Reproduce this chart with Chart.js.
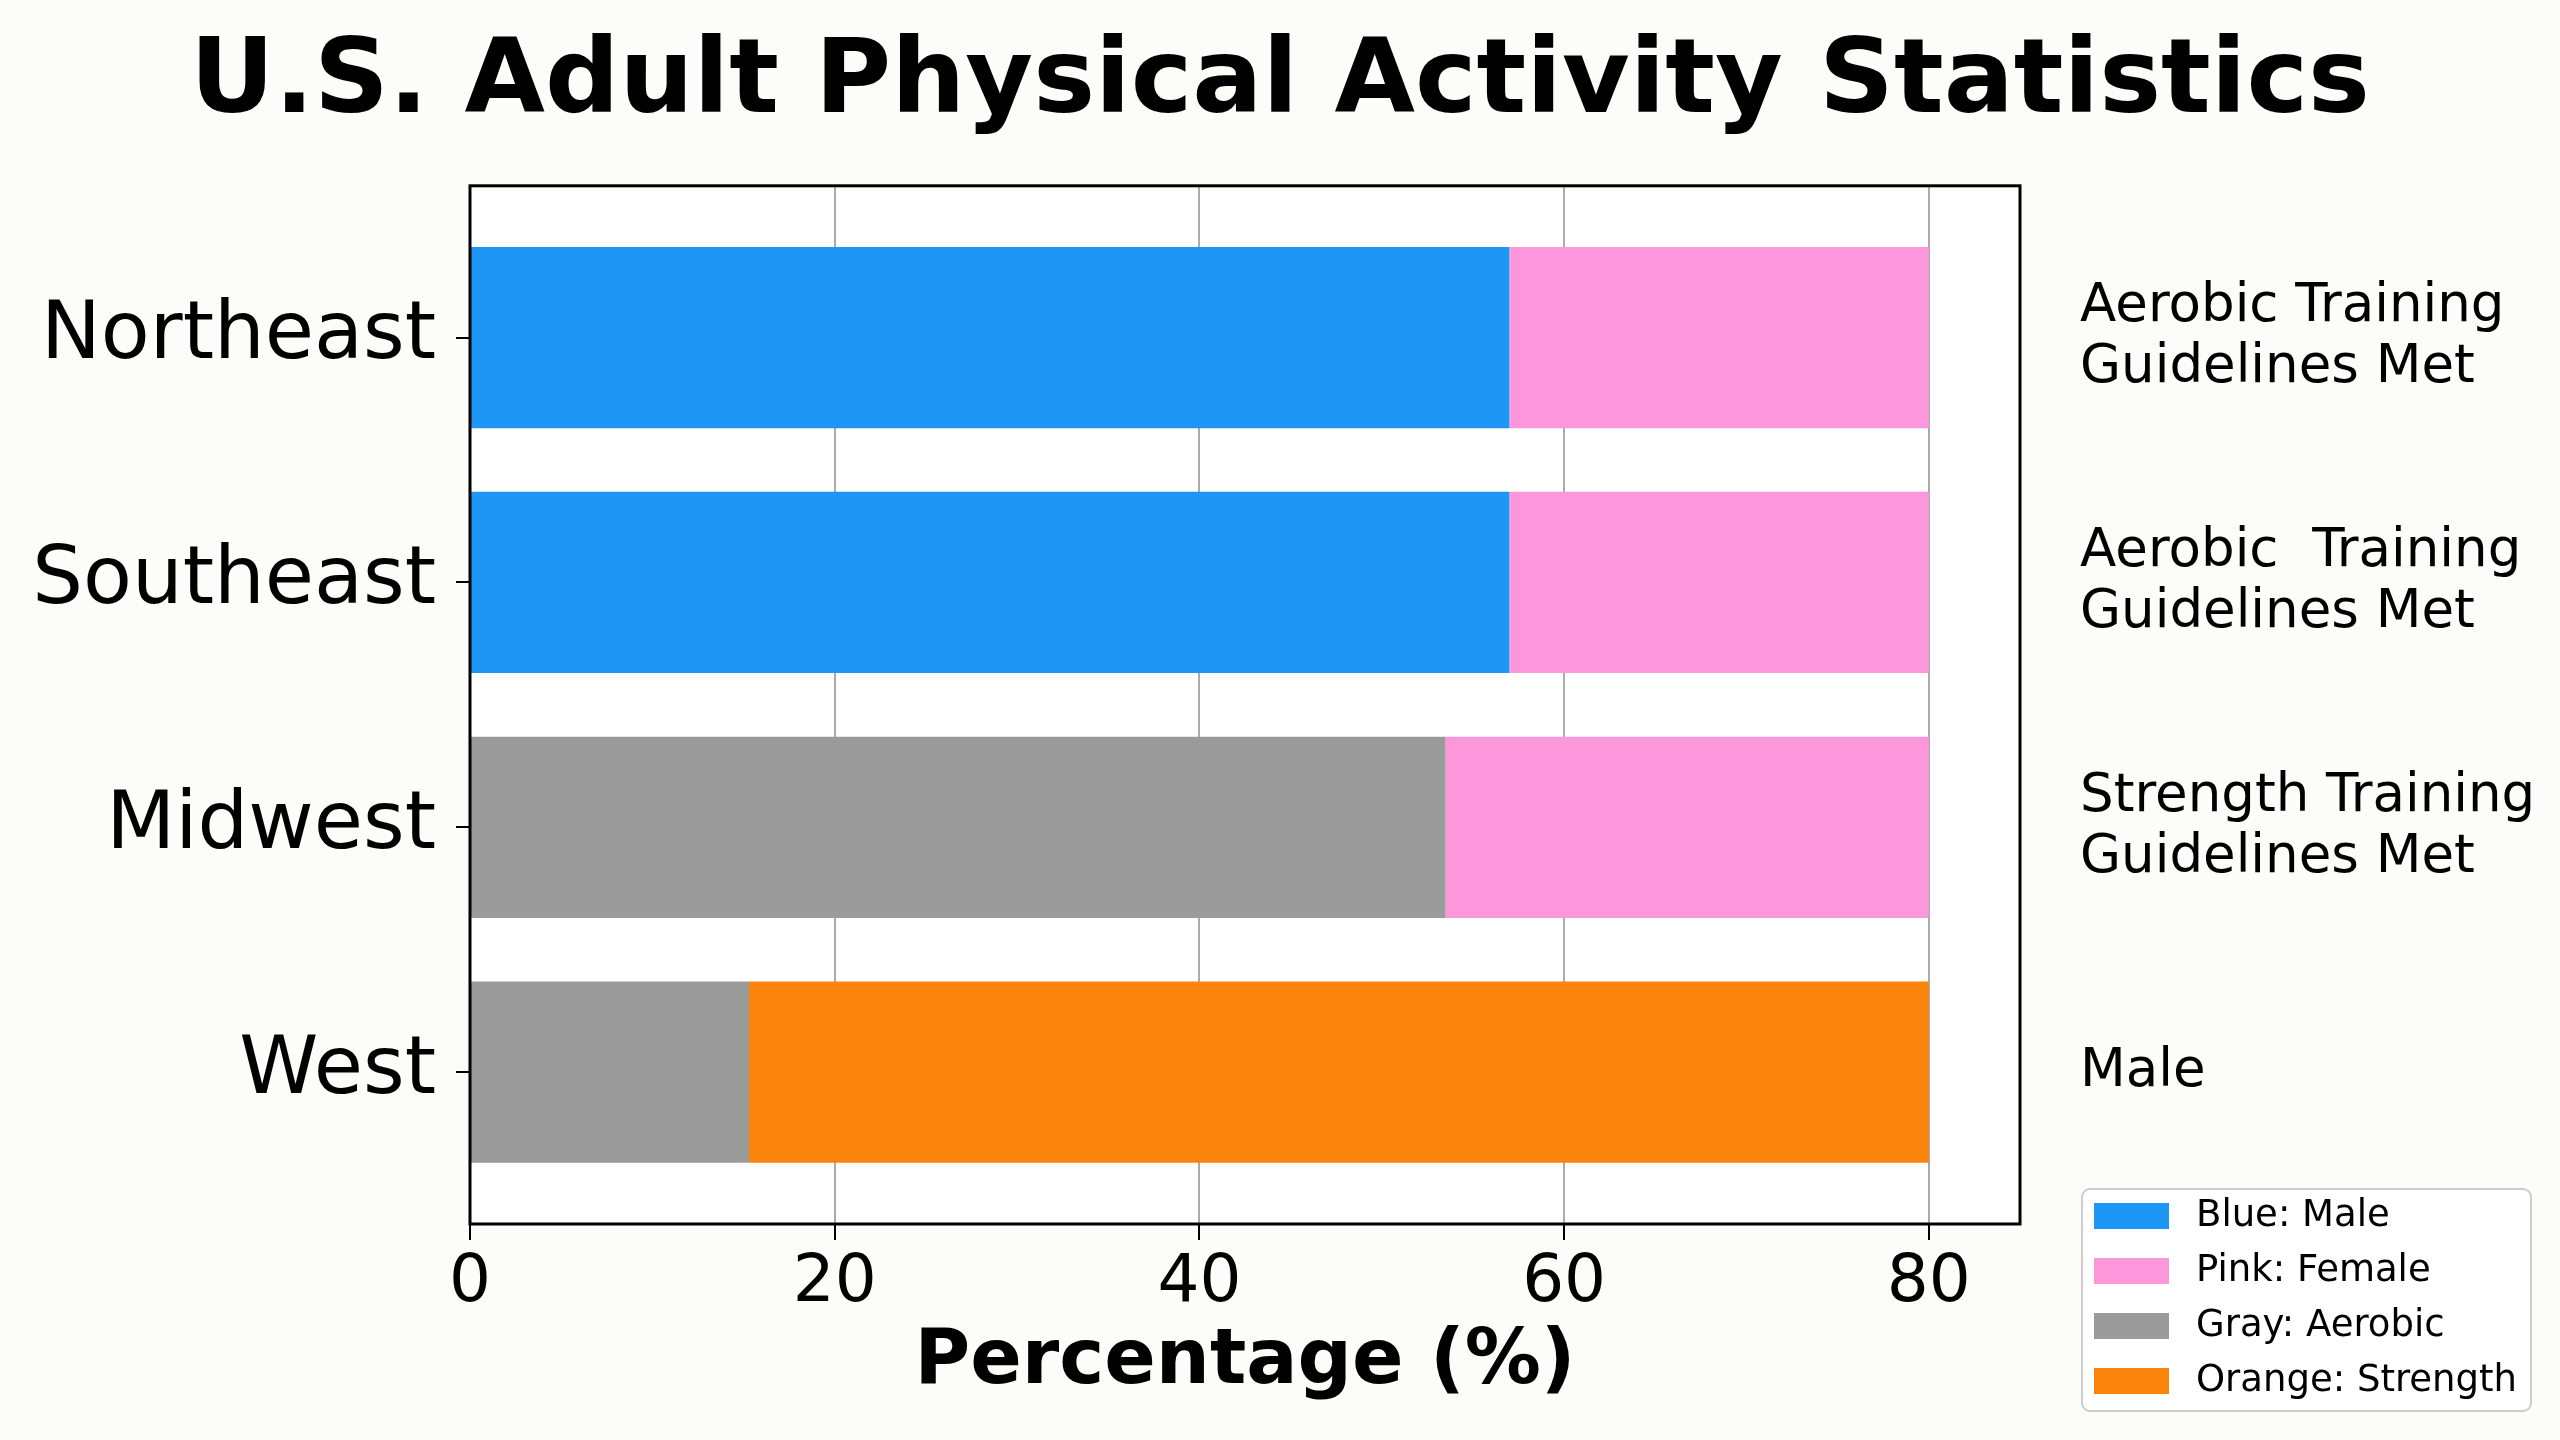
<!DOCTYPE html>
<html>
<head>
<meta charset="utf-8">
<script src="https://cdn.jsdelivr.net/npm/chart.js@4"></script>
<style>
  body { margin: 0; background: #fcfcf8; }
  #wrap { width: 2560px; height: 1440px; }
</style>
</head>
<body>
<div id="wrap"><canvas id="activityChart" width="2560" height="1440"></canvas></div>
<script>
// chart data
const regions = ["Northeast", "Southeast", "Midwest", "West"];
const sideLabels = [
    ["Aerobic Training", "Guidelines Met"],
    ["Aerobic  Training", "Guidelines Met"],
    ["Strength Training", "Guidelines Met"],
    ["Male"]
];
const maleValues = [57, 57, null, null];
const aerobicValues = [null, null, 53.5, 15.3];
const femaleValues = [23, 23, 26.5, null];
const strengthValues = [null, null, null, 64.7];
const xTicks = [0, 20, 40, 60, 80];

const legendLabels = ["Blue: Male", "Pink: Female", "Gray: Aerobic", "Orange: Strength"];
const legendColors = ["#1e96f5", "#fc97dc", "#9b9b9b", "#fb840c"];

Chart.defaults.font.family = "'DejaVu Sans', sans-serif";
Chart.defaults.color = "#000";

function toPoints(values) {
    return values.map((v, i) => ({ x: v, y: i }));
}

// background + white plot area + black frame
const backdrop = {
    id: "backdrop",
    beforeDraw(chart) {
        const { ctx, chartArea: a } = chart;
        ctx.save();
        ctx.fillStyle = "#fcfcf8";
        ctx.fillRect(0, 0, chart.width, chart.height);
        ctx.fillStyle = "#ffffff";
        ctx.fillRect(a.left, a.top, a.right - a.left, a.bottom - a.top);
        ctx.restore();
    },
    afterDraw(chart) {
        const { ctx, chartArea: a } = chart;
        ctx.save();
        ctx.strokeStyle = "#000";
        ctx.lineWidth = 3;
        ctx.strokeRect(a.left, a.top, a.right - a.left, a.bottom - a.top);
        ctx.restore();
    }
};

// legend box in the bottom right corner
const cornerLegend = {
    id: "cornerLegend",
    afterDraw(chart) {
        const ctx = chart.ctx;
        const x = 2082, y = 1189, w = 449, h = 222;
        ctx.save();
        ctx.beginPath();
        ctx.roundRect(x, y, w, h, 8);
        ctx.fillStyle = "#ffffff";
        ctx.fill();
        ctx.strokeStyle = "#cccccc";
        ctx.lineWidth = 2;
        ctx.stroke();
        ctx.font = "37px 'DejaVu Sans'";
        ctx.textBaseline = "middle";
        legendLabels.forEach((label, i) => {
            const cy = y + 27 + i * 55;
            ctx.fillStyle = legendColors[i];
            ctx.fillRect(x + 12, cy - 13, 75, 26);
            ctx.fillStyle = "#000";
            ctx.fillText(label, x + 114, cy);
        });
        ctx.restore();
    }
};

const indexAxis = {
    type: "linear",
    min: -0.62,
    max: 3.62,
    reverse: true,
    stacked: true,
    offset: false
};

new Chart(document.getElementById("activityChart"), {
    type: "bar",
    data: {
        datasets: [
            { label: "Male", data: toPoints(maleValues), backgroundColor: legendColors[0] },
            { label: "Aerobic", data: toPoints(aerobicValues), backgroundColor: legendColors[2] },
            { label: "Female", data: toPoints(femaleValues), backgroundColor: legendColors[1] },
            { label: "Strength", data: toPoints(strengthValues), backgroundColor: legendColors[3] }
        ]
    },
    options: {
        indexAxis: "y",
        responsive: false,
        animation: false,
        layout: { padding: 0 },
        datasets: {
            bar: { categoryPercentage: 1, barPercentage: 0.74, borderWidth: 0 }
        },
        plugins: {
            legend: { display: false },
            tooltip: { enabled: false },
            title: {
                display: true,
                text: "U.S. Adult Physical Activity Statistics",
                color: "#000",
                font: { size: 104, weight: "bold" },
                padding: { top: 23, bottom: 38 }
            }
        },
        scales: {
            x: {
                type: "linear",
                min: 0,
                max: 85,
                stacked: true,
                afterBuildTicks: s => { s.ticks = xTicks.map(v => ({ value: v })); },
                afterFit: s => { s.height = 216; },
                ticks: { font: { size: 66 }, color: "#000", padding: 4 },
                grid: { color: "#ababab", lineWidth: 2, tickColor: "#000", tickLength: 16 },
                border: { display: false },
                title: {
                    display: true,
                    text: "Percentage (%)",
                    color: "#000",
                    font: { size: 76, weight: "bold" },
                    padding: { top: 0, bottom: 31 }
                }
            },
            y: {
                ...indexAxis,
                position: "left",
                afterFit: s => { s.width = 470; },
                ticks: {
                    stepSize: 1,
                    includeBounds: false,
                    autoSkip: false,
                    font: { size: 80 },
                    color: "#000",
                    padding: 20,
                    callback: v => regions[v]
                },
                grid: { offset: false, drawOnChartArea: false, tickColor: "#000", tickLength: 14, lineWidth: 2 },
                border: { display: false }
            },
            y2: {
                ...indexAxis,
                position: "right",
                afterFit: s => { s.width = 540; },
                ticks: {
                    stepSize: 1,
                    includeBounds: false,
                    autoSkip: false,
                    font: { size: 53, lineHeight: 1.15 },
                    color: "#000",
                    padding: 60,
                    callback: v => sideLabels[v]
                },
                grid: { offset: false, display: false, drawTicks: false },
                border: { display: false }
            }
        }
    },
    plugins: [backdrop, cornerLegend]
});
</script>
</body>
</html>
